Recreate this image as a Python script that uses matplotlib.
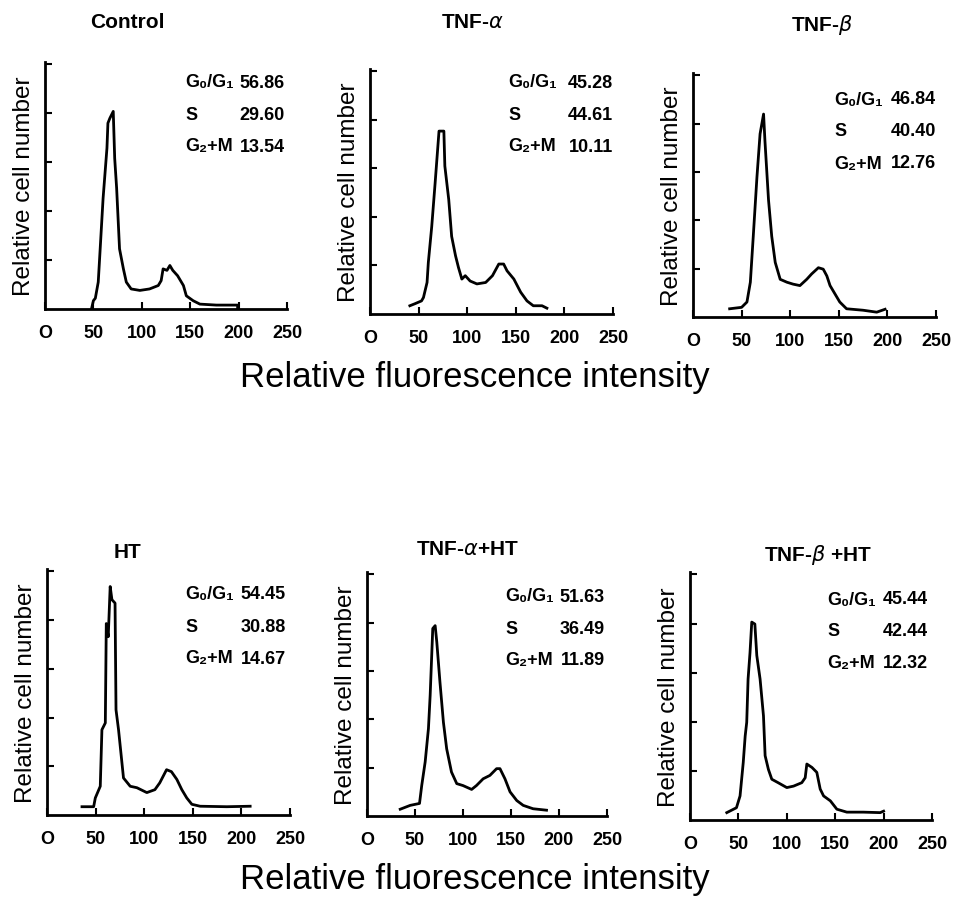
import matplotlib.pyplot as plt

# 画布 954x903
W, H = 954, 903

plt.rcParams['font.family'] = ['Liberation Sans', 'DejaVu Sans']
plt.rcParams['mathtext.fontset'] = 'dejavusans'

titles = ['Control', r'TNF-$\alpha$', r'TNF-$\beta$',
          'HT', r'TNF-$\alpha$+HT', r'TNF-$\beta$ +HT']

# 细胞周期比例 (G0/G1, S, G2+M)
g0g1 = ['56.86', '45.28', '46.84', '54.45', '51.63', '45.44']
s_phase = ['29.60', '44.61', '40.40', '30.88', '36.49', '42.44']
g2m = ['13.54', '10.11', '12.76', '14.67', '11.89', '12.32']

x_ticks = [0, 50, 100, 150, 200, 250]
x_ticklabels = ['O', '50', '100', '150', '200', '250']

# 直方图轮廓 (相对荧光强度, 相对细胞数)
ctrl_x = [48, 50, 52, 55, 57, 60, 64, 65, 67, 70.5, 72, 74, 77, 81, 84, 89, 98, 108, 117, 120, 122, 126, 129, 132, 137, 143, 146, 153, 160, 177, 199, 199]
ctrl_y = [0.0, 0.17, 0.22, 0.55, 1.23, 2.26, 3.29, 3.8, 3.9, 4.04, 3.08, 2.47, 1.23, 0.82, 0.55, 0.41, 0.38, 0.41, 0.48, 0.58, 0.82, 0.79, 0.89, 0.79, 0.68, 0.48, 0.27, 0.17, 0.1, 0.08, 0.08, 0.0]

tnfa_x = [41, 46, 53, 55, 58.7, 60, 63.5, 67, 71, 76, 77, 81, 84, 88, 91, 94.5, 98, 103, 110, 119, 126, 132.5, 137.5, 141, 148, 155, 161.5, 168, 177, 182]
tnfa_y = [0.17, 0.21, 0.27, 0.34, 0.65, 1.06, 1.8, 2.7, 3.77, 3.77, 3.05, 2.36, 1.6, 1.2, 0.96, 0.72, 0.79, 0.68, 0.62, 0.65, 0.79, 1.03, 1.03, 0.89, 0.72, 0.45, 0.27, 0.17, 0.17, 0.12]

tnfb_x = [37.7, 50, 55.5, 59, 62, 65.8, 69, 72.6, 74, 77.7, 81, 84.6, 89.7, 96.6, 103, 110, 117, 122, 129, 134, 137.7, 141, 146, 151, 158, 175, 189, 197.6]
tnfb_y = [0.17, 0.2, 0.31, 0.72, 1.67, 2.9, 3.79, 4.2, 3.65, 2.42, 1.67, 1.13, 0.78, 0.72, 0.68, 0.65, 0.78, 0.89, 1.02, 0.99, 0.85, 0.65, 0.48, 0.31, 0.17, 0.14, 0.1, 0.16]

ht_x = [36, 48, 49.7, 54.8, 56.5, 60, 61, 63, 65, 66.8, 70, 71, 73.6, 78.7, 85.6, 92.5, 102.7, 111, 116, 123, 128, 133.6, 138.7, 143.8, 149, 157.5, 185, 209]
ht_y = [0.17, 0.17, 0.35, 0.59, 1.75, 1.89, 3.93, 3.66, 4.69, 4.42, 4.35, 2.16, 1.75, 0.76, 0.59, 0.56, 0.46, 0.52, 0.66, 0.93, 0.89, 0.73, 0.52, 0.35, 0.22, 0.18, 0.17, 0.18]

tnfa_ht_x = [34.6, 45, 54.7, 57, 60.6, 64, 65.8, 68.5, 71, 72.7, 76, 79.6, 83, 88, 93.5, 100, 109, 114, 121, 128, 135, 138.5, 143.7, 149, 156, 162.7, 173, 187]
tnfa_ht_y = [0.14, 0.22, 0.26, 0.63, 1.12, 1.81, 2.5, 3.88, 3.94, 3.6, 2.77, 1.94, 1.39, 0.91, 0.67, 0.63, 0.55, 0.63, 0.77, 0.84, 0.98, 0.98, 0.77, 0.5, 0.32, 0.22, 0.15, 0.12]

tnfb_ht_x = [38, 48, 51.7, 55, 57, 58.6, 60, 62, 63.8, 67, 69, 72.4, 75.9, 77.6, 81, 84.5, 91, 100, 107, 115.5, 119, 120.7, 126, 131, 134.5, 138, 145, 151.7, 162, 179, 196.5, 200]
tnfb_ht_y = [0.15, 0.25, 0.49, 1.17, 1.71, 1.99, 2.87, 3.41, 4.03, 3.99, 3.35, 2.87, 2.12, 1.31, 1.03, 0.83, 0.76, 0.66, 0.69, 0.76, 0.86, 1.14, 1.07, 0.97, 0.63, 0.49, 0.39, 0.22, 0.16, 0.16, 0.15, 0.18]

curves = [(ctrl_x, ctrl_y), (tnfa_x, tnfa_y), (tnfb_x, tnfb_y),
          (ht_x, ht_y), (tnfa_ht_x, tnfa_ht_y), (tnfb_ht_x, tnfb_ht_y)]

# 各子图坐标轴位置 (像素: 左, 右, 底, 顶)
boxes = [(45, 287, 310, 63), (370, 613, 315, 70), (693, 936, 318, 74),
         (47, 290, 816, 570), (367, 607, 817, 573), (690, 932, 821, 573)]
title_pos = [(127, 22), (472, 22), (822, 25), (128, 552), (468, 550), (818, 555)]
stat_pos = [(185, 285, 83), (508, 613, 83), (834, 936, 100),
            (185, 286, 595), (505, 605, 597), (827, 928, 600)]
row_gap = 32

fig = plt.figure(figsize=(W / 100, H / 100), dpi=100)


def fx(px):
    return px / W


def fy(py):
    return 1 - py / H


for i in range(6):
    l, r, b, t = boxes[i]
    ax = fig.add_axes([fx(l), fy(b), (r - l) / W, (b - t) / H])
    ax.plot(curves[i][0], curves[i][1], color='black', linewidth=2.0)
    ax.set_xlim(0, 250)
    ax.set_ylim(0, 5.05)
    for side in ['top', 'right']:
        ax.spines[side].set_visible(False)
    for side in ['left', 'bottom']:
        ax.spines[side].set_linewidth(2.0)
    ax.set_xticks(x_ticks)
    ax.set_xticklabels(x_ticklabels, fontsize=13, fontweight='bold')
    ax.set_yticks([1, 2, 3, 4, 5])
    ax.set_yticklabels([])
    ax.tick_params(axis='both', direction='in', length=5, width=1.5)
    ax.tick_params(axis='x', pad=11)
    ax.set_ylabel('Relative cell number', fontsize=17.5, labelpad=4)

    tx, ty = title_pos[i]
    fig.text(fx(tx), fy(ty), titles[i], fontsize=15, ha='center', va='center',
             fontweight='bold')

    sx, vx, sy = stat_pos[i]
    labels = ['G\u2080/G\u2081', 'S', 'G\u2082+M']
    vals = [g0g1[i], s_phase[i], g2m[i]]
    for k in range(3):
        yy = sy + k * row_gap
        fig.text(fx(sx), fy(yy), labels[k], fontsize=13, ha='left', va='center',
                 fontweight='bold')
        fig.text(fx(vx), fy(yy), vals[k], fontsize=13, ha='right', va='center',
                 fontweight='bold')

fig.text(fx(475), fy(378), 'Relative fluorescence intensity', fontsize=25,
         ha='center', va='center')
fig.text(fx(475), fy(880), 'Relative fluorescence intensity', fontsize=25,
         ha='center', va='center')

fig.savefig('out.png', dpi=100)
